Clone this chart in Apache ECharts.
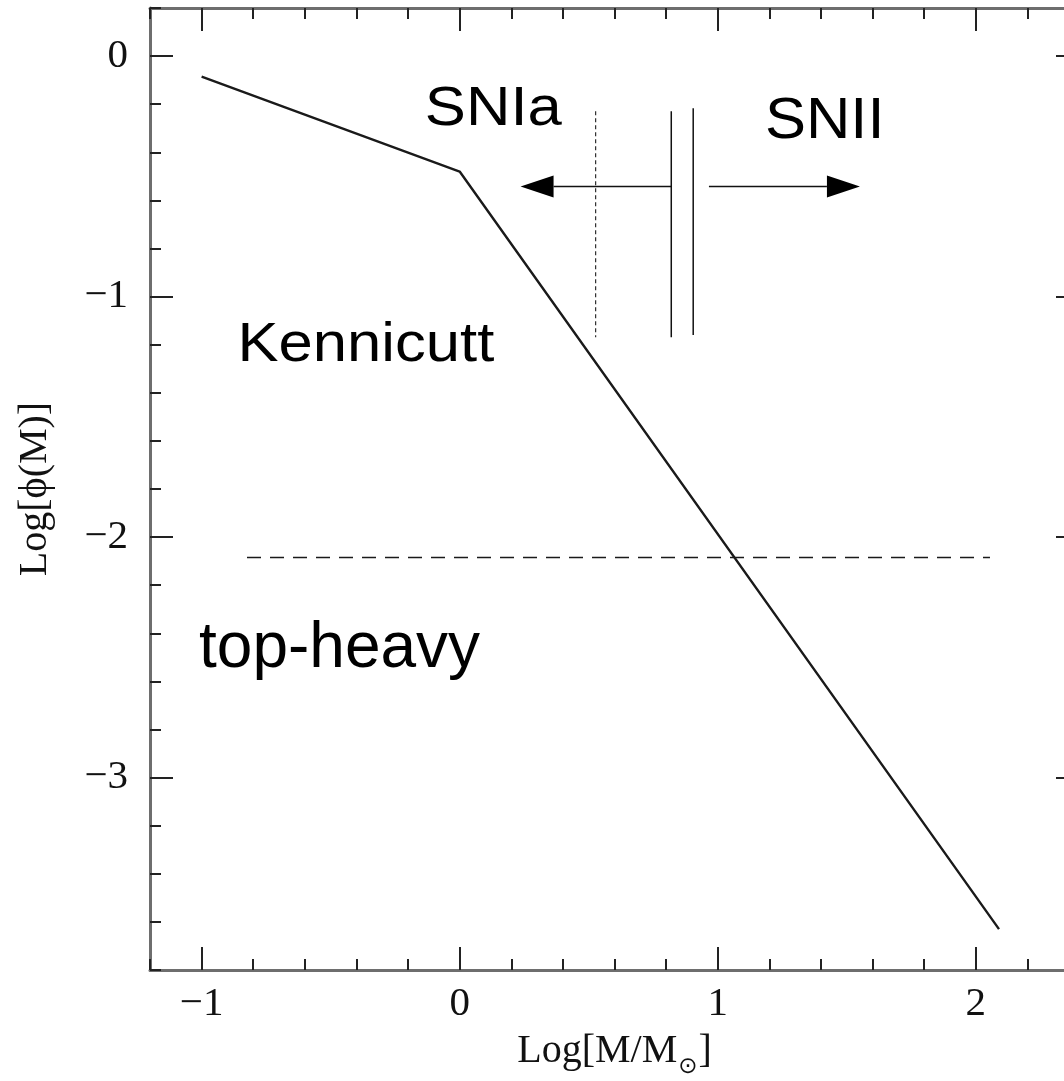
<!DOCTYPE html>
<html>
<head>
<meta charset="utf-8">
<script src="https://cdn.jsdelivr.net/npm/echarts@6/dist/echarts.min.js"></script>
<style>
  html, body { margin: 0; padding: 0; background: #fff; }
  #chart { width: 1064px; height: 1081px; }
</style>
</head>
<body>
<div id="chart"></div>
<script>
// Broken power-law IMF (Kennicutt): log phi vs log mass
const imfLogM = [-1.0, 0.0, 2.09];
const imfLogPhi = [-0.085, -0.48, -3.63];

// Horizontal "top-heavy" reference level
const cutLevel = -2.085;
const cutRange = [-0.824, 2.055];

// SNIa dotted boundary and SNII double boundary
const snIaMass = 0.527;
const snIaSpan = [-0.229, -1.169];
const snIIMass = [0.82, 0.905];
const snIISpan = [[-0.229, -1.169], [-0.217, -1.16]];

// Arrows: [start logM, tip logM, log phi]
const arrowRows = [
  [0.82, 0.236, -0.542],
  [0.966, 1.551, -0.542]
];

// Annotations: text and anchor (left edge, vertical centre)
const noteTexts = ['SNIa', 'SNII', 'Kennicutt', 'top-heavy'];
const noteLogM = [-0.135, 1.183, -0.861, -1.010];
const noteLogPhi = [-0.222, -0.276, -1.204, -2.468];

// Axis ranges and tick labels
const xRange = [-1.2, 2.4];
const yRange = [-3.8, 0.2];
const xMajor = [-1, 0, 1, 2];
const yMajor = [-3, -2, -1, 0];

function minorTicks(range, step) {
  const out = [];
  for (let k = Math.round(range[0] / step); k * step <= range[1] + 1e-9; k++) {
    const v = Math.round(k * step * 10) / 10;
    if (Math.abs(v - Math.round(v)) > 1e-6) out.push(v);
  }
  return out;
}
const xMinor = minorTicks(xRange, 0.2);
const yMinor = minorTicks(yRange, 0.2);

const noteStyle = [
  { size: 56, sx: 1.1 },
  { size: 58, sx: 1.06 },
  { size: 56, sx: 1.1 },
  { size: 64, sx: 1.0 }
];

const frameColor = '#6e6e6e';
const tickColor = '#222';
const serif = '"Liberation Serif", "DejaVu Serif", serif';
const fmt = v => String(v).replace('-', '\u2212');

function makeAxis(kind, pos, major, opts) {
  const range = kind === 'x' ? xRange : yRange;
  const ax = {
    type: 'value',
    position: pos,
    min: range[0],
    max: range[1],
    splitLine: { show: false },
    axisLine: { show: !!opts.line, onZero: false, lineStyle: { color: frameColor, width: 3 } },
    axisTick: {
      show: true, inside: true, length: major ? 23 : 11,
      customValues: opts.ticks,
      lineStyle: { color: tickColor, width: 2 }
    },
    axisLabel: { show: false },
    minorTick: { show: false }
  };
  if (opts.labels) {
    ax.axisLabel = {
      show: true,
      customValues: opts.ticks,
      formatter: fmt,
      fontFamily: serif,
      fontSize: 41,
      color: '#111',
      margin: kind === 'x' ? 14 : 22
    };
  }
  return ax;
}

const xMain = makeAxis('x', 'bottom', true, { line: true, ticks: xMajor, labels: true });
xMain.name = '{m|Log[M/M}{s|\u2299}{m|]}';
xMain.nameLocation = 'middle';
xMain.nameGap = 61;
xMain.nameMoveOverlap = false;
xMain.nameTextStyle = {
  color: '#111',
  rich: {
    m: { fontFamily: serif, fontSize: 40, lineHeight: 42, verticalAlign: 'top', color: '#111' },
    s: { fontFamily: '"DejaVu Sans", sans-serif', fontSize: 23, lineHeight: 24, padding: [25, 1, 0, 1], verticalAlign: 'top', color: '#111' }
  }
};

const yMain = makeAxis('y', 'left', true, { line: true, ticks: yMajor, labels: true });
yMain.name = 'Log[\u03D5(M)]';
yMain.nameLocation = 'middle';
yMain.nameGap = 95;
yMain.nameMoveOverlap = false;
yMain.nameTextStyle = { fontFamily: serif, fontSize: 40, color: '#111' };

const option = {
  animation: false,
  backgroundColor: '#fff',
  grid: { left: 150, top: 8, width: 929, height: 962, containLabel: false, outerBoundsMode: 'none' },
  xAxis: [
    xMain,
    makeAxis('x', 'bottom', false, { ticks: xMinor }),
    makeAxis('x', 'top', true, { line: true, ticks: xMajor }),
    makeAxis('x', 'top', false, { ticks: xMinor })
  ],
  yAxis: [
    yMain,
    makeAxis('y', 'left', false, { ticks: yMinor }),
    makeAxis('y', 'right', true, { line: true, ticks: yMajor }),
    makeAxis('y', 'right', false, { ticks: yMinor })
  ],
  series: [
    {
      name: 'Kennicutt IMF', type: 'line', symbol: 'none', silent: true,
      data: imfLogM.map((m, i) => [m, imfLogPhi[i]]),
      lineStyle: { color: '#1a1a1a', width: 2.4 }
    },
    {
      name: 'top-heavy level', type: 'line', symbol: 'none', silent: true,
      data: cutRange.map(m => [m, cutLevel]),
      lineStyle: { color: '#1a1a1a', width: 1.6, type: [14, 9] }
    },
    {
      name: 'SNIa limit', type: 'line', symbol: 'none', silent: true,
      data: snIaSpan.map(p => [snIaMass, p]),
      lineStyle: { color: '#1a1a1a', width: 1.1, type: [4, 3] }
    },
    ...snIIMass.map((m, i) => ({
      name: 'SNII limit ' + (i + 1), type: 'line', symbol: 'none', silent: true,
      data: snIISpan[i].map(p => [m, p]),
      lineStyle: { color: '#111', width: 1.5 }
    })),
    {
      name: 'arrows', type: 'custom', silent: true,
      encode: { x: [0, 1], y: 2 },
      data: arrowRows,
      renderItem(params, api) {
        const from = api.coord([api.value(0), api.value(2)]);
        const tip = api.coord([api.value(1), api.value(2)]);
        const dir = Math.sign(tip[0] - from[0]);
        const headLen = 33, half = 11;
        const baseX = tip[0] - dir * headLen;
        return {
          type: 'group',
          children: [
            { type: 'line', shape: { x1: from[0], y1: from[1], x2: baseX, y2: tip[1] },
              style: { stroke: '#111', lineWidth: 1.5 } },
            { type: 'polygon', shape: { points: [[tip[0], tip[1]], [baseX, tip[1] - half], [baseX, tip[1] + half]] },
              style: { fill: '#000' } }
          ]
        };
      }
    },
    {
      name: 'notes', type: 'custom', silent: true,
      encode: { x: 0, y: 1 },
      data: noteLogM.map((m, i) => [m, noteLogPhi[i]]),
      renderItem(params, api) {
        const p = api.coord([api.value(0), api.value(1)]);
        const st = noteStyle[params.dataIndex];
        return {
          type: 'text',
          x: p[0], y: p[1],
          scaleX: st.sx,
          style: {
            text: noteTexts[params.dataIndex],
            fontFamily: '"Liberation Sans", Arial, sans-serif',
            fontSize: st.size,
            fill: '#000',
            align: 'left',
            verticalAlign: 'middle'
          }
        };
      }
    }
  ]
};

const chart = echarts.init(document.getElementById('chart'), null, { renderer: 'canvas' });
chart.setOption(option);
</script>
</body>
</html>
